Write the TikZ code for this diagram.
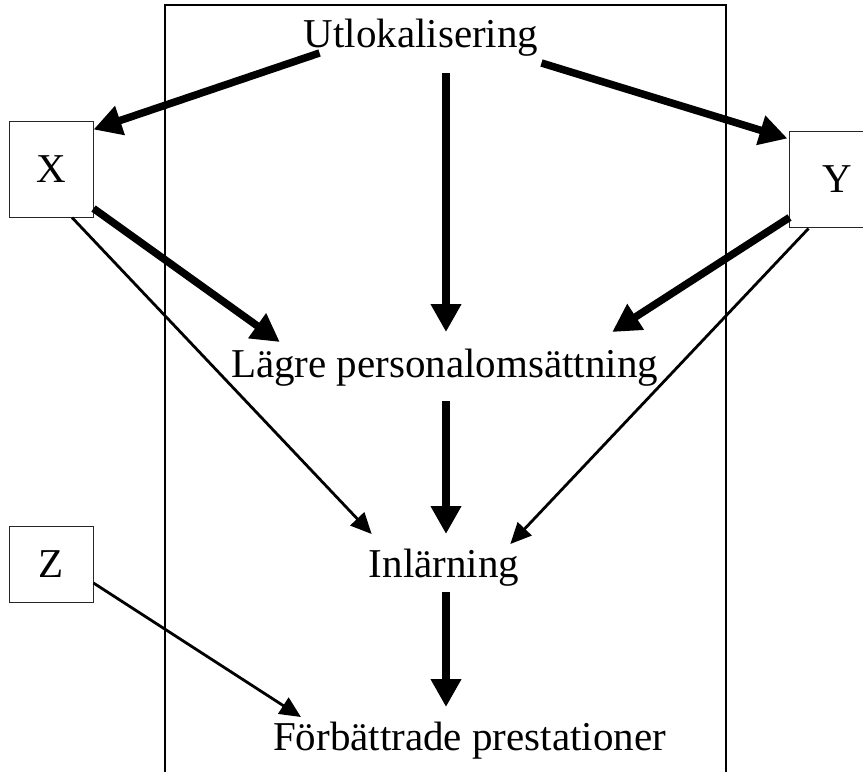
\documentclass[tikz,border=0pt]{standalone}
\usepackage{fontspec}
\setmainfont{Liberation Serif}
\usetikzlibrary{arrows.meta,calc}
\begin{document}
\begin{tikzpicture}[x=1pt,y=-1pt,
  lbl/.style={inner sep=0pt,anchor=base,font=\fontsize{41}{49}\selectfont},
  boxnode/.style={draw=black!85,line width=1pt,minimum width=84pt,minimum height=96pt,inner sep=0pt,font=\fontsize{41}{49}\selectfont},
  thk/.style={line width=7.5pt,-{Triangle[length=28pt,width=29pt]}},
  thn/.style={line width=2.8pt,-{Triangle[length=21pt,width=19pt]}}]
\useasboundingbox (0,0) rectangle (863,772);
\draw[line width=1.1pt] (165,772) -- (165,5) -- (726,5) -- (726,772);
\node[lbl] (utl) at (421,47) {Utlokalisering};
\node[lbl] (lagre) at (444.5,377) {Lägre personalomsättning};
\node[lbl] (inl) at (444,577) {Inlärning};
\node[lbl] (forb) at (469.5,750) {Förbättrade prestationer};
\node[boxnode] (X) at (51,169) {X};
\node[boxnode,minimum width=96pt] (Y) at (837,179) {Y};
\node[boxnode,minimum height=76pt] (Z) at (51,564) {Z};
% thick arrows
\draw[thk] ($(utl.base west)+(16,6)$) -- ($(X.north east)+(0,9)$);
\draw[thk] ($(utl.base east)+(3,16)$) -- ($(Y.north west)+(-1,8)$);
\draw[thk] ($(utl.base)+(25,26)$) -- ($(lagre.base)+(1.5,-45)$);
\draw[thk] ($(X.south east)+(0,-9)$) -- ($(lagre.base west)+(49,-35)$);
\draw[thk] ($(Y.south west)+(1,-10)$) -- ($(lagre.base east)+(-46,-45)$);
\draw[thk] ($(lagre.base)+(1.5,24)$) -- ($(inl.base)+(2,-43)$);
\draw[thk] ($(inl.base)+(2,15)$) -- ($(forb.base)+(-23.5,-43)$);
% thin arrows
\draw[thn] ($(X.south)+(21,0)$) -- ($(inl.base west)+(3,-43)$);
\draw[thn] ($(Y.south west)+(20,1)$) -- ($(inl.base east)+(-9,-33)$);
\draw[thn] ($(Z.east)+(0,19)$) -- ($(forb.base west)+(28,-33)$);
\end{tikzpicture}
\end{document}
